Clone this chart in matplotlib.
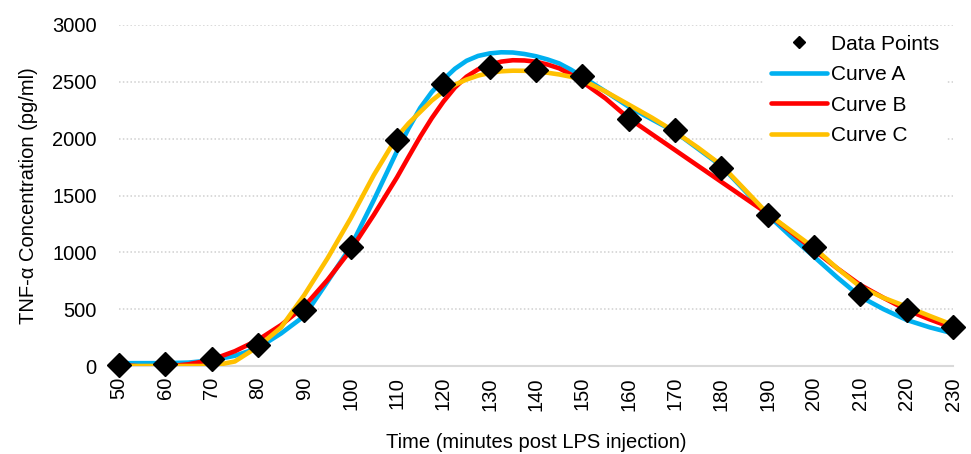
import matplotlib
matplotlib.use("Agg")
import matplotlib.pyplot as plt

plt.rcParams['font.family'] = ['Liberation Sans', 'DejaVu Sans']

# measured points
time_pts = [50, 60, 70, 80, 90, 100, 110, 120, 130, 140, 150, 160, 170, 180, 190, 200, 210, 220, 230]
tnf_pts = [10, 20, 65, 185, 495, 1050, 1990, 2485, 2630, 2600, 2550, 2175, 2075, 1745, 1330, 1050, 630, 490, 340]

# fitted curves (finer steps around the peak)
time_fit = [50, 55, 60, 65, 70, 75, 80, 85, 90, 95, 100, 105,
            110, 112.5, 115, 117.5, 120, 122.5, 125, 127.5, 130, 132.5, 135, 137.5, 140, 142.5, 145, 147.5, 150,
            155, 160, 165, 170, 175, 180, 185, 190, 195, 200, 205, 210, 215, 220, 225, 230]
curve_a = [25, 25, 25, 30, 50, 90, 158, 287, 440, 742, 1050, 1460,
           1890, 2090, 2270, 2410, 2520, 2615, 2685, 2728, 2750, 2760, 2758, 2745, 2725, 2697, 2662, 2608, 2545,
           2415, 2281, 2170, 2060, 1910, 1760, 1545, 1330, 1140, 962, 780, 610, 500, 405, 340, 287]
curve_b = [10, -5, -5, 15, 55, 130, 229, 361, 525, 757, 1020, 1330,
           1660, 1840, 2017, 2180, 2325, 2450, 2545, 2610, 2650, 2678, 2690, 2688, 2677, 2652, 2619, 2565, 2500,
           2354, 2180, 2040, 1900, 1760, 1620, 1480, 1340, 1180, 1020, 860, 713, 600, 493, 410, 334]
curve_c = [0, 0, 0, 0, 0, 40, 170, 340, 625, 947, 1299, 1680,
           2017, 2135, 2235, 2335, 2415, 2475, 2520, 2555, 2578, 2593, 2598, 2597, 2590, 2580, 2565, 2545, 2516,
           2415, 2300, 2185, 2060, 1920, 1768, 1555, 1340, 1190, 1040, 860, 697, 600, 522, 440, 361]

fig = plt.figure(figsize=(9.71, 4.54), dpi=100)
ax = fig.add_axes([119/971, 1-366/454, 834/971, 341/454])

line_kw = dict(lw=3.3, solid_capstyle='round', solid_joinstyle='round', zorder=3)
ax.plot(time_fit, curve_a, color='#00B0F0', label='Curve A', **line_kw)
ax.plot(time_fit, curve_b, color='#FF0000', label='Curve B', **line_kw)
ax.plot(time_fit, curve_c, color='#FFC000', label='Curve C', **line_kw)
ax.plot(time_pts, tnf_pts, 'D', color='black', ms=12, label='Data Points', zorder=5, clip_on=False)

ax.set_xlim(50, 230)
ax.set_ylim(0, 3000)
ax.set_xticks(time_pts)
ax.set_xticklabels([str(t) for t in time_pts], rotation=90, fontsize=14.5)
ax.set_yticks(range(0, 3001, 500))
ax.tick_params(axis='y', labelsize=14.5, length=0, pad=16)
ax.tick_params(axis='x', length=0, pad=8)

ax.grid(axis='y', color='#D0D0D0', linestyle=(0, (1, 1.5)), linewidth=1.1)
ax.set_axisbelow(True)
for s in ['top', 'right', 'left']:
    ax.spines[s].set_visible(False)
ax.spines['bottom'].set_color('#D9D9D9')
ax.spines['bottom'].set_linewidth(1.5)
ax.spines['bottom'].set_zorder(1)

ax.set_ylabel('TNF-\u03b1 Concentration (pg/ml)', fontsize=14.5, labelpad=10)
ax.set_xlabel('Time (minutes post LPS injection)', fontsize=14.5, labelpad=16)

h, l = ax.get_legend_handles_labels()
order = [3, 0, 1, 2]
leg = ax.legend([h[i] for i in order], [l[i] for i in order], loc='upper right',
                bbox_to_anchor=(956/971, 1-18/454), bbox_transform=fig.transFigure,
                fontsize=15, frameon=True, fancybox=False, edgecolor='none', facecolor='white',
                framealpha=1, handlelength=2.7, handletextpad=0.2, labelspacing=0.55,
                borderpad=0.3, markerscale=0.55, numpoints=1)

fig.savefig('out.png', dpi=100)
